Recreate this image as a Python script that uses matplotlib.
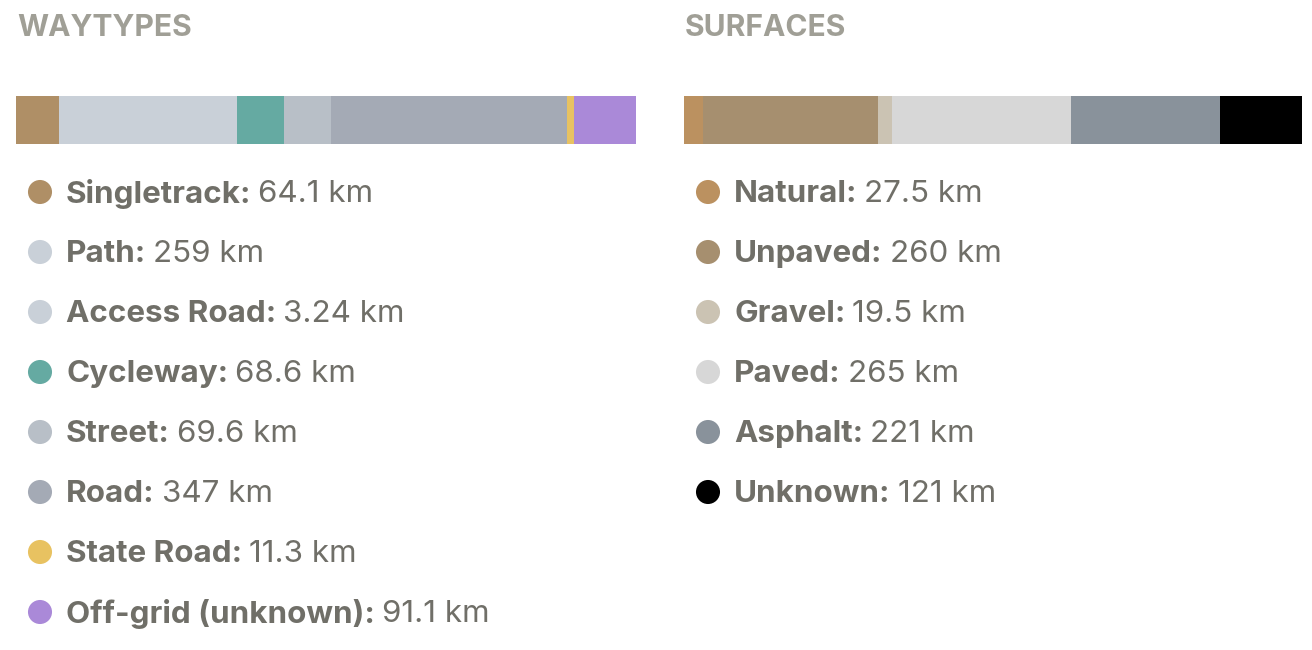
import matplotlib
matplotlib.use("Agg")
import matplotlib.pyplot as plt
import matplotlib.transforms as mtrans
import numpy as np

plt.rcParams['font.family'] = ['Inter', 'DejaVu Sans']

way_labels = ["Singletrack", "Path", "Access Road", "Cycleway", "Street", "Road",
              "State Road", "Off-grid (unknown)"]
way_km = [64.1, 259, 3.24, 68.6, 69.6, 347, 11.3, 91.1]
way_text = ["64.1 km", "259 km", "3.24 km", "68.6 km", "69.6 km", "347 km",
            "11.3 km", "91.1 km"]
way_colors = ["#AF8F66", "#C9D0D8", "#C9D0D8", "#65AAA2", "#B8BFC7", "#A4AAB5",
              "#E8C261", "#AA89D8"]

surf_labels = ["Natural", "Unpaved", "Gravel", "Paved", "Asphalt", "Unknown"]
surf_km = [27.5, 260, 19.5, 265, 221, 121]
surf_text = ["27.5 km", "260 km", "19.5 km", "265 km", "221 km", "121 km"]
surf_colors = ["#BB9160", "#A68F6F", "#CBC3B3", "#D7D7D7", "#89929B", "#000000"]

W, H = 1312, 650
fig = plt.figure(figsize=(W / 100, H / 100), dpi=100)
fig.patch.set_facecolor("white")

TITLE_COL = "#A09F96"
TEXT_COL = "#706F68"

# one pixel-space axes for the legends
lg = fig.add_axes([0, 0, 1, 1])
lg.set_xlim(0, W)
lg.set_ylim(H, 0)
lg.axis("off")
renderer = fig.canvas.get_renderer()
px_x = mtrans.blended_transform_factory(mtrans.IdentityTransform(), lg.transData)


def panel(x0, width, title, labels, values, texts, colors):
    lg.text(x0 + 1, 36, title, fontsize=21.6, fontweight="bold",
            color=TITLE_COL, ha="left", va="baseline")
    ax = fig.add_axes([x0 / W, 1 - 144 / H, width / W, 48 / H])
    left = np.concatenate([[0], np.cumsum(values)[:-1]])
    ax.barh([0] * len(values), values, left=left, color=colors, height=1.0,
            edgecolor="none")
    ax.set_xlim(0, sum(values))
    ax.set_ylim(-0.5, 0.5)
    ax.axis("off")

    for i, (lab, txt, c) in enumerate(zip(labels, texts, colors)):
        y = 192 + 60 * i
        lg.scatter([x0 + 24], [y], s=300, color=c, edgecolors="none")
        t = lg.text(x0 + 50, y + 2, lab + ":", fontsize=22.6, fontweight="bold",
                    color=TEXT_COL, ha="left", va="center")
        bb = t.get_window_extent(renderer)
        lg.text(bb.x1 + 7, y + 2, txt, fontsize=22.6, color=TEXT_COL,
                ha="left", va="center", transform=px_x)


panel(16, 620, "WAYTYPES", way_labels, way_km, way_text, way_colors)
panel(684, 618, "SURFACES", surf_labels, surf_km, surf_text, surf_colors)

fig.savefig("out.png", dpi=100, facecolor="white")
